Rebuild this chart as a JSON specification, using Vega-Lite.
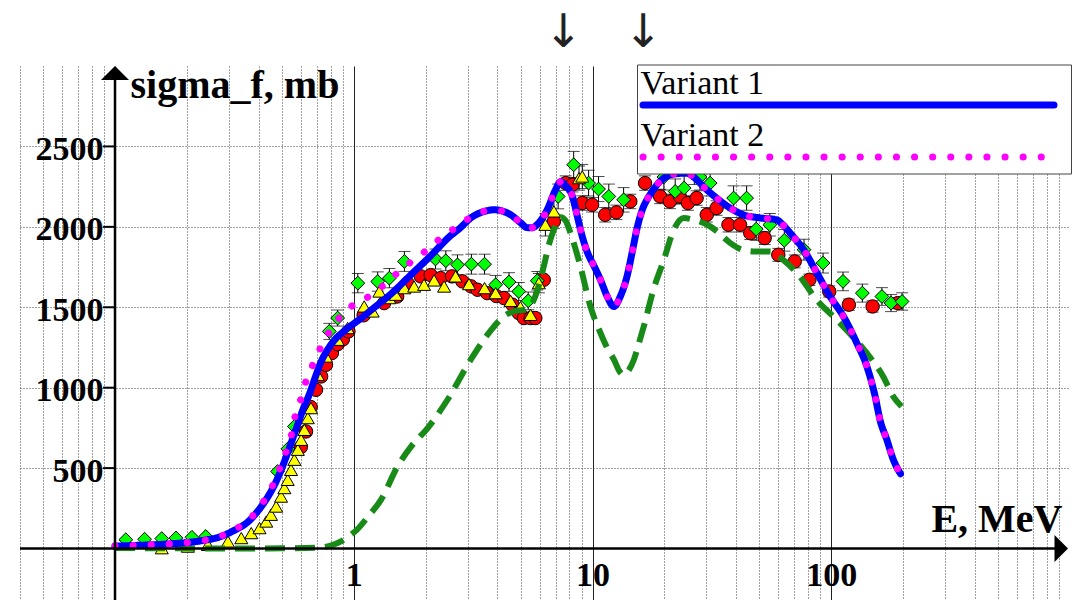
{
  "$schema": "https://vega.github.io/schema/vega-lite/v6.json",
  "width": 1050,
  "height": 534,
  "autosize": {"type": "none"},
  "padding": {"left": 20, "top": 66, "right": 7, "bottom": 0},
  "background": "white",
  "config": {"view": {"stroke": null}, "font": "Liberation Serif"},
  "datasets": {
    "variants": [
      {"model": "Variant 1", "E": 0.1, "sigma": 15}, {"model": "Variant 1", "E": 0.12, "sigma": 19}, {"model": "Variant 1", "E": 0.143, "sigma": 23},
      {"model": "Variant 1", "E": 0.17, "sigma": 29}, {"model": "Variant 1", "E": 0.2, "sigma": 37}, {"model": "Variant 1", "E": 0.234, "sigma": 50},
      {"model": "Variant 1", "E": 0.274, "sigma": 72}, {"model": "Variant 1", "E": 0.313, "sigma": 110}, {"model": "Variant 1", "E": 0.36, "sigma": 165},
      {"model": "Variant 1", "E": 0.4, "sigma": 240}, {"model": "Variant 1", "E": 0.436, "sigma": 320}, {"model": "Variant 1", "E": 0.469, "sigma": 405},
      {"model": "Variant 1", "E": 0.5, "sigma": 500}, {"model": "Variant 1", "E": 0.53, "sigma": 600}, {"model": "Variant 1", "E": 0.56, "sigma": 700},
      {"model": "Variant 1", "E": 0.585, "sigma": 780}, {"model": "Variant 1", "E": 0.615, "sigma": 870}, {"model": "Variant 1", "E": 0.652, "sigma": 960},
      {"model": "Variant 1", "E": 0.69, "sigma": 1065}, {"model": "Variant 1", "E": 0.729, "sigma": 1160}, {"model": "Variant 1", "E": 0.78, "sigma": 1240},
      {"model": "Variant 1", "E": 0.829, "sigma": 1295}, {"model": "Variant 1", "E": 0.9, "sigma": 1345}, {"model": "Variant 1", "E": 0.973, "sigma": 1385},
      {"model": "Variant 1", "E": 1.07, "sigma": 1430}, {"model": "Variant 1", "E": 1.2, "sigma": 1490}, {"model": "Variant 1", "E": 1.45, "sigma": 1590},
      {"model": "Variant 1", "E": 1.73, "sigma": 1700}, {"model": "Variant 1", "E": 2.1, "sigma": 1820}, {"model": "Variant 1", "E": 2.5, "sigma": 1935},
      {"model": "Variant 1", "E": 2.8, "sigma": 1995}, {"model": "Variant 1", "E": 3.09, "sigma": 2055}, {"model": "Variant 1", "E": 3.5, "sigma": 2095},
      {"model": "Variant 1", "E": 3.87, "sigma": 2106}, {"model": "Variant 1", "E": 4.2, "sigma": 2098}, {"model": "Variant 1", "E": 4.54, "sigma": 2075},
      {"model": "Variant 1", "E": 5.0, "sigma": 2025}, {"model": "Variant 1", "E": 5.33, "sigma": 1995}, {"model": "Variant 1", "E": 5.6, "sigma": 1995},
      {"model": "Variant 1", "E": 5.87, "sigma": 2015}, {"model": "Variant 1", "E": 6.46, "sigma": 2106}, {"model": "Variant 1", "E": 7.0, "sigma": 2230},
      {"model": "Variant 1", "E": 7.34, "sigma": 2280}, {"model": "Variant 1", "E": 7.72, "sigma": 2255}, {"model": "Variant 1", "E": 8.24, "sigma": 2189},
      {"model": "Variant 1", "E": 8.64, "sigma": 2065}, {"model": "Variant 1", "E": 9.06, "sigma": 1940}, {"model": "Variant 1", "E": 9.5, "sigma": 1845},
      {"model": "Variant 1", "E": 10.2, "sigma": 1750}, {"model": "Variant 1", "E": 10.8, "sigma": 1671}, {"model": "Variant 1", "E": 11.5, "sigma": 1570},
      {"model": "Variant 1", "E": 12.3, "sigma": 1505}, {"model": "Variant 1", "E": 13.1, "sigma": 1570}, {"model": "Variant 1", "E": 13.95, "sigma": 1692},
      {"model": "Variant 1", "E": 14.7, "sigma": 1850}, {"model": "Variant 1", "E": 15.36, "sigma": 1990}, {"model": "Variant 1", "E": 16.2, "sigma": 2110},
      {"model": "Variant 1", "E": 16.9, "sigma": 2168}, {"model": "Variant 1", "E": 17.5, "sigma": 2205}, {"model": "Variant 1", "E": 19.2, "sigma": 2283},
      {"model": "Variant 1", "E": 21.8, "sigma": 2328}, {"model": "Variant 1", "E": 24.8, "sigma": 2334}, {"model": "Variant 1", "E": 27, "sigma": 2300},
      {"model": "Variant 1", "E": 29.1, "sigma": 2251}, {"model": "Variant 1", "E": 33.1, "sigma": 2179}, {"model": "Variant 1", "E": 37.7, "sigma": 2117},
      {"model": "Variant 1", "E": 42.8, "sigma": 2075}, {"model": "Variant 1", "E": 50.4, "sigma": 2055}, {"model": "Variant 1", "E": 58.9, "sigma": 2044},
      {"model": "Variant 1", "E": 63, "sigma": 2010}, {"model": "Variant 1", "E": 67.3, "sigma": 1961}, {"model": "Variant 1", "E": 76.6, "sigma": 1858},
      {"model": "Variant 1", "E": 87.1, "sigma": 1713}, {"model": "Variant 1", "E": 98.9, "sigma": 1567}, {"model": "Variant 1", "E": 112.5, "sigma": 1443},
      {"model": "Variant 1", "E": 128, "sigma": 1277}, {"model": "Variant 1", "E": 141, "sigma": 1132}, {"model": "Variant 1", "E": 153, "sigma": 940},
      {"model": "Variant 1", "E": 160, "sigma": 800}, {"model": "Variant 1", "E": 171, "sigma": 676}, {"model": "Variant 1", "E": 182, "sigma": 552},
      {"model": "Variant 1", "E": 195, "sigma": 465},

      {"model": "Variant 2", "E": 0.1, "sigma": 15}, {"model": "Variant 2", "E": 0.12, "sigma": 19}, {"model": "Variant 2", "E": 0.143, "sigma": 23},
      {"model": "Variant 2", "E": 0.17, "sigma": 29}, {"model": "Variant 2", "E": 0.2, "sigma": 37}, {"model": "Variant 2", "E": 0.234, "sigma": 50},
      {"model": "Variant 2", "E": 0.274, "sigma": 74}, {"model": "Variant 2", "E": 0.313, "sigma": 115}, {"model": "Variant 2", "E": 0.36, "sigma": 172},
      {"model": "Variant 2", "E": 0.4, "sigma": 250}, {"model": "Variant 2", "E": 0.436, "sigma": 335}, {"model": "Variant 2", "E": 0.469, "sigma": 427},
      {"model": "Variant 2", "E": 0.496, "sigma": 520}, {"model": "Variant 2", "E": 0.525, "sigma": 618}, {"model": "Variant 2", "E": 0.55, "sigma": 717},
      {"model": "Variant 2", "E": 0.568, "sigma": 825}, {"model": "Variant 2", "E": 0.596, "sigma": 914}, {"model": "Variant 2", "E": 0.625, "sigma": 1022},
      {"model": "Variant 2", "E": 0.662, "sigma": 1116}, {"model": "Variant 2", "E": 0.706, "sigma": 1211}, {"model": "Variant 2", "E": 0.758, "sigma": 1302},
      {"model": "Variant 2", "E": 0.816, "sigma": 1381}, {"model": "Variant 2", "E": 0.904, "sigma": 1464}, {"model": "Variant 2", "E": 1.02, "sigma": 1524},
      {"model": "Variant 2", "E": 1.18, "sigma": 1575}, {"model": "Variant 2", "E": 1.34, "sigma": 1640}, {"model": "Variant 2", "E": 1.52, "sigma": 1712},
      {"model": "Variant 2", "E": 1.73, "sigma": 1780}, {"model": "Variant 2", "E": 1.97, "sigma": 1842}, {"model": "Variant 2", "E": 2.2, "sigma": 1904},
      {"model": "Variant 2", "E": 2.51, "sigma": 1966}, {"model": "Variant 2", "E": 2.9, "sigma": 2034}, {"model": "Variant 2", "E": 3.35, "sigma": 2086},
      {"model": "Variant 2", "E": 3.87, "sigma": 2106}, {"model": "Variant 2", "E": 4.2, "sigma": 2098}, {"model": "Variant 2", "E": 4.54, "sigma": 2075},
      {"model": "Variant 2", "E": 5.0, "sigma": 2025}, {"model": "Variant 2", "E": 5.33, "sigma": 1995}, {"model": "Variant 2", "E": 5.6, "sigma": 1995},
      {"model": "Variant 2", "E": 5.87, "sigma": 2015}, {"model": "Variant 2", "E": 6.46, "sigma": 2106}, {"model": "Variant 2", "E": 7.0, "sigma": 2230},
      {"model": "Variant 2", "E": 7.34, "sigma": 2280}, {"model": "Variant 2", "E": 7.72, "sigma": 2255}, {"model": "Variant 2", "E": 8.24, "sigma": 2189},
      {"model": "Variant 2", "E": 8.64, "sigma": 2065}, {"model": "Variant 2", "E": 9.06, "sigma": 1940}, {"model": "Variant 2", "E": 9.5, "sigma": 1845},
      {"model": "Variant 2", "E": 10.2, "sigma": 1750}, {"model": "Variant 2", "E": 10.8, "sigma": 1671}, {"model": "Variant 2", "E": 11.5, "sigma": 1570},
      {"model": "Variant 2", "E": 12.3, "sigma": 1505}, {"model": "Variant 2", "E": 13.1, "sigma": 1570}, {"model": "Variant 2", "E": 13.95, "sigma": 1692},
      {"model": "Variant 2", "E": 14.7, "sigma": 1850}, {"model": "Variant 2", "E": 15.36, "sigma": 1990}, {"model": "Variant 2", "E": 16.2, "sigma": 2110},
      {"model": "Variant 2", "E": 16.9, "sigma": 2168}, {"model": "Variant 2", "E": 17.5, "sigma": 2205}, {"model": "Variant 2", "E": 19.2, "sigma": 2283},
      {"model": "Variant 2", "E": 21.8, "sigma": 2328}, {"model": "Variant 2", "E": 24.8, "sigma": 2334}, {"model": "Variant 2", "E": 27, "sigma": 2300},
      {"model": "Variant 2", "E": 29.1, "sigma": 2251}, {"model": "Variant 2", "E": 33.1, "sigma": 2179}, {"model": "Variant 2", "E": 37.7, "sigma": 2117},
      {"model": "Variant 2", "E": 42.8, "sigma": 2075}, {"model": "Variant 2", "E": 50.4, "sigma": 2055}, {"model": "Variant 2", "E": 58.9, "sigma": 2044},
      {"model": "Variant 2", "E": 63, "sigma": 2010}, {"model": "Variant 2", "E": 67.3, "sigma": 1961}, {"model": "Variant 2", "E": 76.6, "sigma": 1858},
      {"model": "Variant 2", "E": 87.1, "sigma": 1713}, {"model": "Variant 2", "E": 98.9, "sigma": 1567}, {"model": "Variant 2", "E": 112.5, "sigma": 1443},
      {"model": "Variant 2", "E": 128, "sigma": 1277}, {"model": "Variant 2", "E": 141, "sigma": 1132}, {"model": "Variant 2", "E": 153, "sigma": 940},
      {"model": "Variant 2", "E": 160, "sigma": 800}, {"model": "Variant 2", "E": 171, "sigma": 676}, {"model": "Variant 2", "E": 182, "sigma": 552},
      {"model": "Variant 2", "E": 195, "sigma": 465}
    ],
    "reference": [
      {"E": 0.1, "sigma": 3}, {"E": 0.15, "sigma": 2}, {"E": 0.2, "sigma": 1}, {"E": 0.3, "sigma": 0}, {"E": 0.5, "sigma": 1},
      {"E": 0.7, "sigma": 5}, {"E": 0.8, "sigma": 18}, {"E": 0.884, "sigma": 44}, {"E": 0.95, "sigma": 75}, {"E": 1.03, "sigma": 116},
      {"E": 1.15, "sigma": 200}, {"E": 1.3, "sigma": 303}, {"E": 1.525, "sigma": 510}, {"E": 1.75, "sigma": 640}, {"E": 2.04, "sigma": 749},
      {"E": 2.47, "sigma": 925}, {"E": 3.09, "sigma": 1174}, {"E": 3.87, "sigma": 1381}, {"E": 4.3, "sigma": 1450}, {"E": 4.69, "sigma": 1474},
      {"E": 5.2, "sigma": 1485}, {"E": 5.68, "sigma": 1547}, {"E": 6.0, "sigma": 1650}, {"E": 6.25, "sigma": 1754}, {"E": 6.6, "sigma": 1900},
      {"E": 6.89, "sigma": 1982}, {"E": 7.35, "sigma": 2060}, {"E": 7.7, "sigma": 2040}, {"E": 8.09, "sigma": 1961}, {"E": 8.5, "sigma": 1860},
      {"E": 8.9, "sigma": 1754}, {"E": 9.8, "sigma": 1505}, {"E": 10.8, "sigma": 1340}, {"E": 11.5, "sigma": 1250}, {"E": 12.3, "sigma": 1174},
      {"E": 13.0, "sigma": 1100}, {"E": 13.5, "sigma": 1080}, {"E": 14.2, "sigma": 1110}, {"E": 14.9, "sigma": 1174}, {"E": 15.6, "sigma": 1270},
      {"E": 16.4, "sigma": 1381}, {"E": 18.0, "sigma": 1609}, {"E": 19.9, "sigma": 1795}, {"E": 21.9, "sigma": 1982}, {"E": 24.1, "sigma": 2055},
      {"E": 26.5, "sigma": 2044}, {"E": 31.1, "sigma": 2003}, {"E": 33.3, "sigma": 1971}, {"E": 37.8, "sigma": 1899}, {"E": 42, "sigma": 1860},
      {"E": 47.2, "sigma": 1847}, {"E": 55.4, "sigma": 1847}, {"E": 62.9, "sigma": 1795}, {"E": 73.8, "sigma": 1692}, {"E": 86.8, "sigma": 1547},
      {"E": 101.9, "sigma": 1443}, {"E": 119, "sigma": 1340}, {"E": 141, "sigma": 1215}, {"E": 165, "sigma": 1070}, {"E": 182, "sigma": 945},
      {"E": 197, "sigma": 883}
    ],
    "measured": [
      {"series": "A", "E": 0.6, "sigma": 630, "err": 0}, {"series": "A", "E": 0.631, "sigma": 728, "err": 0}, {"series": "A", "E": 0.66, "sigma": 880, "err": 0},
      {"series": "A", "E": 0.695, "sigma": 987, "err": 0}, {"series": "A", "E": 0.73, "sigma": 1070, "err": 0}, {"series": "A", "E": 0.765, "sigma": 1142, "err": 0},
      {"series": "A", "E": 0.81, "sigma": 1215, "err": 0}, {"series": "A", "E": 0.856, "sigma": 1270, "err": 0}, {"series": "A", "E": 0.9, "sigma": 1300, "err": 0},
      {"series": "A", "E": 0.95, "sigma": 1350, "err": 0}, {"series": "A", "E": 1.1, "sigma": 1450, "err": 0}, {"series": "A", "E": 1.34, "sigma": 1526, "err": 0},
      {"series": "A", "E": 1.52, "sigma": 1567, "err": 0}, {"series": "A", "E": 1.68, "sigma": 1650, "err": 0}, {"series": "A", "E": 1.91, "sigma": 1692, "err": 0},
      {"series": "A", "E": 2.1, "sigma": 1700, "err": 0}, {"series": "A", "E": 2.31, "sigma": 1681, "err": 0}, {"series": "A", "E": 2.58, "sigma": 1692, "err": 0},
      {"series": "A", "E": 2.85, "sigma": 1661, "err": 0}, {"series": "A", "E": 3.1, "sigma": 1630, "err": 0}, {"series": "A", "E": 3.3, "sigma": 1609, "err": 0},
      {"series": "A", "E": 3.62, "sigma": 1588, "err": 0}, {"series": "A", "E": 3.95, "sigma": 1570, "err": 0}, {"series": "A", "E": 4.26, "sigma": 1557, "err": 0},
      {"series": "A", "E": 4.62, "sigma": 1516, "err": 0}, {"series": "A", "E": 4.91, "sigma": 1464, "err": 0}, {"series": "A", "E": 5.16, "sigma": 1433, "err": 0},
      {"series": "A", "E": 5.5, "sigma": 1433, "err": 0}, {"series": "A", "E": 5.76, "sigma": 1433, "err": 0}, {"series": "A", "E": 6.25, "sigma": 1671, "err": 0},
      {"series": "A", "E": 6.89, "sigma": 2034, "err": 45}, {"series": "A", "E": 7.72, "sigma": 2272, "err": 45}, {"series": "A", "E": 8.24, "sigma": 2262, "err": 45},
      {"series": "A", "E": 9.06, "sigma": 2148, "err": 45}, {"series": "A", "E": 9.96, "sigma": 2137, "err": 45}, {"series": "A", "E": 11.3, "sigma": 2075, "err": 45},
      {"series": "A", "E": 12.6, "sigma": 2090, "err": 45}, {"series": "A", "E": 14.4, "sigma": 2158, "err": 45}, {"series": "A", "E": 16.6, "sigma": 2272, "err": 45},
      {"series": "A", "E": 19.2, "sigma": 2189, "err": 45}, {"series": "A", "E": 21.1, "sigma": 2158, "err": 45}, {"series": "A", "E": 23.2, "sigma": 2189, "err": 45},
      {"series": "A", "E": 25.1, "sigma": 2148, "err": 45}, {"series": "A", "E": 27.3, "sigma": 2179, "err": 45}, {"series": "A", "E": 30.1, "sigma": 2075, "err": 45},
      {"series": "A", "E": 33.1, "sigma": 2117, "err": 45}, {"series": "A", "E": 37.1, "sigma": 2013, "err": 45}, {"series": "A", "E": 41.5, "sigma": 2013, "err": 45},
      {"series": "A", "E": 45.8, "sigma": 1961, "err": 40}, {"series": "A", "E": 52.6, "sigma": 1930, "err": 40}, {"series": "A", "E": 60.0, "sigma": 1826, "err": 40},
      {"series": "A", "E": 70.3, "sigma": 1785, "err": 40}, {"series": "A", "E": 81.0, "sigma": 1671, "err": 35}, {"series": "A", "E": 98.1, "sigma": 1598, "err": 35},
      {"series": "A", "E": 118.5, "sigma": 1516, "err": 35}, {"series": "A", "E": 149, "sigma": 1505, "err": 35}, {"series": "A", "E": 190, "sigma": 1526, "err": 35},

      {"series": "B", "E": 0.111, "sigma": 55, "err": 0}, {"series": "B", "E": 0.133, "sigma": 58, "err": 0}, {"series": "B", "E": 0.157, "sigma": 62, "err": 0},
      {"series": "B", "E": 0.18, "sigma": 66, "err": 0}, {"series": "B", "E": 0.21, "sigma": 70, "err": 0}, {"series": "B", "E": 0.24, "sigma": 75, "err": 0},
      {"series": "B", "E": 0.48, "sigma": 479, "err": 0}, {"series": "B", "E": 0.53, "sigma": 620, "err": 0}, {"series": "B", "E": 0.564, "sigma": 759, "err": 0},
      {"series": "B", "E": 0.79, "sigma": 1350, "err": 50}, {"series": "B", "E": 0.856, "sigma": 1433, "err": 50}, {"series": "B", "E": 1.04, "sigma": 1650, "err": 60},
      {"series": "B", "E": 1.26, "sigma": 1660, "err": 60}, {"series": "B", "E": 1.41, "sigma": 1681, "err": 60}, {"series": "B", "E": 1.63, "sigma": 1785, "err": 62},
      {"series": "B", "E": 2.2, "sigma": 1800, "err": 62}, {"series": "B", "E": 2.43, "sigma": 1789, "err": 62}, {"series": "B", "E": 2.72, "sigma": 1764, "err": 62},
      {"series": "B", "E": 3.11, "sigma": 1768, "err": 62}, {"series": "B", "E": 3.53, "sigma": 1768, "err": 62}, {"series": "B", "E": 3.93, "sigma": 1640, "err": 58},
      {"series": "B", "E": 4.47, "sigma": 1657, "err": 58}, {"series": "B", "E": 4.91, "sigma": 1598, "err": 56}, {"series": "B", "E": 5.38, "sigma": 1540, "err": 55},
      {"series": "B", "E": 5.87, "sigma": 1665, "err": 58}, {"series": "B", "E": 7.18, "sigma": 2189, "err": 77}, {"series": "B", "E": 8.34, "sigma": 2386, "err": 83},
      {"series": "B", "E": 9.63, "sigma": 2272, "err": 80}, {"series": "B", "E": 10.6, "sigma": 2235, "err": 78}, {"series": "B", "E": 11.7, "sigma": 2189, "err": 77},
      {"series": "B", "E": 13.5, "sigma": 2168, "err": 76}, {"series": "B", "E": 19.9, "sigma": 2310, "err": 81}, {"series": "B", "E": 22.2, "sigma": 2220, "err": 78},
      {"series": "B", "E": 24.2, "sigma": 2241, "err": 78}, {"series": "B", "E": 26.7, "sigma": 2345, "err": 82}, {"series": "B", "E": 28.2, "sigma": 2310, "err": 81},
      {"series": "B", "E": 31.1, "sigma": 2272, "err": 80}, {"series": "B", "E": 39.0, "sigma": 2179, "err": 76}, {"series": "B", "E": 44.2, "sigma": 2179, "err": 76},
      {"series": "B", "E": 48.5, "sigma": 1986, "err": 70}, {"series": "B", "E": 55.3, "sigma": 2013, "err": 70}, {"series": "B", "E": 63.6, "sigma": 1916, "err": 67},
      {"series": "B", "E": 76.9, "sigma": 1858, "err": 65}, {"series": "B", "E": 92.4, "sigma": 1775, "err": 62}, {"series": "B", "E": 112, "sigma": 1661, "err": 58},
      {"series": "B", "E": 135, "sigma": 1588, "err": 56}, {"series": "B", "E": 163, "sigma": 1567, "err": 55}, {"series": "B", "E": 178, "sigma": 1526, "err": 53},
      {"series": "B", "E": 198, "sigma": 1536, "err": 54},

      {"series": "C", "E": 0.157, "sigma": 2, "err": 0}, {"series": "C", "E": 0.202, "sigma": 12, "err": 0}, {"series": "C", "E": 0.245, "sigma": 23, "err": 0},
      {"series": "C", "E": 0.297, "sigma": 44, "err": 0}, {"series": "C", "E": 0.338, "sigma": 65, "err": 0}, {"series": "C", "E": 0.372, "sigma": 96, "err": 0},
      {"series": "C", "E": 0.403, "sigma": 127, "err": 0}, {"series": "C", "E": 0.43, "sigma": 168, "err": 0}, {"series": "C", "E": 0.45, "sigma": 210, "err": 0},
      {"series": "C", "E": 0.473, "sigma": 261, "err": 0}, {"series": "C", "E": 0.496, "sigma": 323, "err": 0}, {"series": "C", "E": 0.512, "sigma": 376, "err": 0},
      {"series": "C", "E": 0.529, "sigma": 427, "err": 0}, {"series": "C", "E": 0.546, "sigma": 489, "err": 0}, {"series": "C", "E": 0.564, "sigma": 552, "err": 0},
      {"series": "C", "E": 0.583, "sigma": 614, "err": 0}, {"series": "C", "E": 0.602, "sigma": 676, "err": 0}, {"series": "C", "E": 0.621, "sigma": 738, "err": 0},
      {"series": "C", "E": 0.642, "sigma": 811, "err": 0}, {"series": "C", "E": 0.662, "sigma": 873, "err": 0}, {"series": "C", "E": 0.706, "sigma": 1080, "err": 0},
      {"series": "C", "E": 0.765, "sigma": 1194, "err": 0}, {"series": "C", "E": 0.856, "sigma": 1298, "err": 0}, {"series": "C", "E": 0.943, "sigma": 1371, "err": 0},
      {"series": "C", "E": 1.106, "sigma": 1505, "err": 0}, {"series": "C", "E": 1.2, "sigma": 1474, "err": 0}, {"series": "C", "E": 1.28, "sigma": 1598, "err": 0},
      {"series": "C", "E": 1.41, "sigma": 1557, "err": 0}, {"series": "C", "E": 1.5, "sigma": 1578, "err": 0}, {"series": "C", "E": 1.63, "sigma": 1619, "err": 0},
      {"series": "C", "E": 1.79, "sigma": 1629, "err": 0}, {"series": "C", "E": 1.97, "sigma": 1640, "err": 0}, {"series": "C", "E": 2.17, "sigma": 1667, "err": 0},
      {"series": "C", "E": 2.39, "sigma": 1629, "err": 0}, {"series": "C", "E": 2.67, "sigma": 1692, "err": 0}, {"series": "C", "E": 3.04, "sigma": 1644, "err": 0},
      {"series": "C", "E": 3.53, "sigma": 1619, "err": 0}, {"series": "C", "E": 3.93, "sigma": 1588, "err": 0}, {"series": "C", "E": 4.54, "sigma": 1540, "err": 0},
      {"series": "C", "E": 4.99, "sigma": 1501, "err": 0}, {"series": "C", "E": 5.5, "sigma": 1453, "err": 0}, {"series": "C", "E": 5.96, "sigma": 1650, "err": 60},
      {"series": "C", "E": 6.35, "sigma": 2013, "err": 70}, {"series": "C", "E": 6.89, "sigma": 2096, "err": 70}, {"series": "C", "E": 8.78, "sigma": 2303, "err": 75},
      {"series": "C", "E": 9.06, "sigma": 2313, "err": 75}
    ],
    "yticks": [{"sigma": 500}, {"sigma": 1000}, {"sigma": 1500}, {"sigma": 2000}, {"sigma": 2500}],
    "markers": [{"E": 7.56}, {"E": 16.3}]
  },
  "layer": [
    {
      "data": {"name": "measured"},
      "transform": [{"filter": "datum.err > 0"}],
      "mark": {"type": "errorbar", "color": "#000000", "thickness": 1, "ticks": {"size": 12, "thickness": 1}},
      "encoding": {
        "x": {"field": "E", "type": "quantitative", "title": "E, MeV", "scale": {"type": "log", "domain": [0.04, 1000], "nice": false}},
        "y": {"field": "sigma", "type": "quantitative", "title": "sigma_f, mb", "scale": {"domain": [-320, 3000], "nice": false, "zero": false}},
        "yError": {"field": "err"}
      }
    },
    {
      "data": {"name": "measured"},
      "transform": [{"filter": "datum.series == 'A'"}],
      "mark": {"type": "point", "shape": "circle", "filled": true, "fill": "#ff0000", "stroke": "#000000", "strokeWidth": 1, "size": 180, "opacity": 1},
      "encoding": {
        "x": {
          "field": "E",
          "type": "quantitative",
          "scale": {"type": "log", "domain": [0.04, 1000], "nice": false},
          "axis": {
            "values": [0.04, 0.05, 0.06, 0.07, 0.08, 0.09, 0.1, 0.2, 0.3, 0.4, 0.5, 0.6, 0.7, 0.8, 0.9, 1, 2, 3, 4, 5, 6, 7, 8, 9, 10, 20, 30, 40, 50, 60, 70, 80, 90, 100, 200, 300, 400, 500, 600, 700, 800, 900],
            "grid": true,
            "gridColor": {"condition": {"test": "datum.value == 1 || datum.value == 10 || datum.value == 100", "value": "#222222"}, "value": "#444444"},
            "gridDash": {"condition": {"test": "datum.value == 1 || datum.value == 10 || datum.value == 100", "value": []}, "value": [1, 2]},
            "gridWidth": 1,
            "domain": false,
            "ticks": false,
            "tickSize": 0,
            "labelExpr": "datum.value == 1 || datum.value == 10 || datum.value == 100 ? datum.value + '' : ''",
            "labelFont": "Liberation Serif",
            "labelFontSize": 34,
            "labelFontWeight": "bold",
            "labelColor": "#000000",
            "labelAlign": "center",
            "labelBaseline": "alphabetic",
            "labelPadding": -15,
            "labelOverlap": false,
            "labelFlush": false,
            "title": "E, MeV",
            "titleFont": "Liberation Serif",
            "titleFontSize": 40,
            "titleFontWeight": "bold",
            "titleColor": "#000000",
            "titleAlign": "right",
            "titleBaseline": "alphabetic",
            "titleX": 1042,
            "titleY": -69
          }
        },
        "y": {
          "field": "sigma",
          "type": "quantitative",
          "scale": {"domain": [-320, 3000], "nice": false, "zero": false},
          "axis": {
            "values": [500, 1000, 1500, 2000, 2500],
            "grid": true,
            "gridColor": "#444444",
            "gridDash": [1, 2],
            "gridWidth": 1,
            "domain": false,
            "ticks": false,
            "tickSize": 0,
            "format": "d",
            "labelFont": "Liberation Serif",
            "labelFontSize": 34,
            "labelFontWeight": "bold",
            "labelColor": "#000000",
            "labelAlign": "right",
            "labelBaseline": "alphabetic",
            "labelPadding": -83,
            "labelOffset": 13,
            "labelOverlap": false,
            "labelFlush": false,
            "title": "sigma_f, mb",
            "titleFont": "Liberation Serif",
            "titleFontSize": 40,
            "titleFontWeight": "bold",
            "titleColor": "#000000",
            "titleAngle": 0,
            "titleAlign": "left",
            "titleBaseline": "alphabetic",
            "titleX": 110,
            "titleY": 31
          }
        }
      }
    },
    {
      "data": {"name": "measured"},
      "transform": [{"filter": "datum.series == 'B'"}],
      "mark": {"type": "point", "shape": "diamond", "filled": true, "fill": "#00ff00", "stroke": "#000000", "strokeWidth": 1, "size": 190, "opacity": 1},
      "encoding": {
        "x": {"field": "E", "type": "quantitative", "scale": {"type": "log", "domain": [0.04, 1000], "nice": false}},
        "y": {"field": "sigma", "type": "quantitative", "scale": {"domain": [-320, 3000], "nice": false, "zero": false}}
      }
    },
    {
      "data": {"name": "measured"},
      "transform": [{"filter": "datum.series == 'C'"}],
      "mark": {"type": "point", "shape": "triangle-up", "filled": true, "fill": "#ffff00", "stroke": "#000000", "strokeWidth": 1, "size": 170, "opacity": 1},
      "encoding": {
        "x": {"field": "E", "type": "quantitative", "scale": {"type": "log", "domain": [0.04, 1000], "nice": false}},
        "y": {"field": "sigma", "type": "quantitative", "scale": {"domain": [-320, 3000], "nice": false, "zero": false}}
      }
    },
    {
      "data": {"name": "reference"},
      "mark": {"type": "line", "color": "#188a18", "strokeWidth": 6, "strokeDash": [20, 10], "interpolate": "monotone"},
      "encoding": {
        "x": {"field": "E", "type": "quantitative", "scale": {"type": "log", "domain": [0.04, 1000], "nice": false}},
        "y": {"field": "sigma", "type": "quantitative", "scale": {"domain": [-320, 3000], "nice": false, "zero": false}}
      }
    },
    {
      "data": {"name": "variants"},
      "mark": {"type": "line", "strokeWidth": 7, "strokeCap": "round", "interpolate": "monotone"},
      "encoding": {
        "x": {"field": "E", "type": "quantitative", "scale": {"type": "log", "domain": [0.04, 1000], "nice": false}},
        "y": {"field": "sigma", "type": "quantitative", "scale": {"domain": [-320, 3000], "nice": false, "zero": false}},
        "color": {
          "field": "model",
          "type": "nominal",
          "scale": {"domain": ["Variant 1", "Variant 2"], "range": ["#0000ff", "#ff00ff"]},
          "legend": {
            "title": null, "orient": "none", "legendX": 617, "legendY": -1.5,
            "symbolType": "stroke", "symbolSize": 168921, "symbolStrokeWidth": 7,
            "rowPadding": 0, "labelOffset": -417,
            "labelFont": "Liberation Serif", "labelFontSize": 34, "labelColor": "#000000",
            "labelBaseline": "alphabetic", "labelLimit": 0,
            "padding": 2.5, "fillColor": "#ffffff", "strokeColor": "#444444",
            "encode": {
              "symbols": {"update": {"strokeCap": {"value": "round"}, "y": {"value": 38}}},
              "labels": {"update": {"y": {"value": 27}}}
            }
          }
        },
        "strokeDash": {
          "field": "model",
          "type": "nominal",
          "scale": {"domain": ["Variant 1", "Variant 2"], "range": [[1, 0], [0.1, 18]]},
          "legend": {
            "title": null, "orient": "none", "legendX": 617, "legendY": -1.5,
            "symbolType": "stroke", "symbolSize": 168921, "symbolStrokeWidth": 7,
            "rowPadding": 0, "labelOffset": -417,
            "labelFont": "Liberation Serif", "labelFontSize": 34, "labelColor": "#000000",
            "labelBaseline": "alphabetic", "labelLimit": 0,
            "padding": 2.5, "fillColor": "#ffffff", "strokeColor": "#444444",
            "encode": {
              "symbols": {"update": {"strokeCap": {"value": "round"}, "y": {"value": 38}}},
              "labels": {"update": {"y": {"value": 27}}}
            }
          }
        }
      }
    },
    {
      "data": {"name": "yticks"},
      "mark": {"type": "rule", "color": "#000000", "strokeWidth": 2},
      "encoding": {
        "x": {"datum": 0.0891, "type": "quantitative", "scale": {"type": "log", "domain": [0.04, 1000], "nice": false}},
        "x2": {"datum": 0.1},
        "y": {"field": "sigma", "type": "quantitative", "scale": {"domain": [-320, 3000], "nice": false, "zero": false}}
      }
    },
    {
      "data": {"values": [{}]},
      "mark": {"type": "rule", "color": "#000000", "strokeWidth": 2.5},
      "encoding": {
        "x": {"datum": 0.04, "type": "quantitative", "scale": {"type": "log", "domain": [0.04, 1000], "nice": false}},
        "x2": {"datum": 919},
        "y": {"datum": 0, "type": "quantitative", "scale": {"domain": [-320, 3000], "nice": false, "zero": false}}
      }
    },
    {
      "data": {"values": [{}]},
      "mark": {"type": "rule", "color": "#000000", "strokeWidth": 2.5},
      "encoding": {
        "x": {"datum": 0.1, "type": "quantitative", "scale": {"type": "log", "domain": [0.04, 1000], "nice": false}},
        "y": {"datum": -320, "type": "quantitative", "scale": {"domain": [-320, 3000], "nice": false, "zero": false}},
        "y2": {"datum": 2956}
      }
    },
    {
      "data": {"values": [{}]},
      "mark": {"type": "point", "shape": "M-0.5,-1L0.5,0L-0.5,1Z", "filled": true, "color": "#000000", "size": 729, "opacity": 1},
      "encoding": {
        "x": {"datum": 919, "type": "quantitative", "scale": {"type": "log", "domain": [0.04, 1000], "nice": false}},
        "y": {"datum": 0, "type": "quantitative", "scale": {"domain": [-320, 3000], "nice": false, "zero": false}}
      }
    },
    {
      "data": {"values": [{}]},
      "mark": {"type": "point", "shape": "M-1,0.5L0,-0.5L1,0.5Z", "filled": true, "color": "#000000", "size": 784, "opacity": 1},
      "encoding": {
        "x": {"datum": 0.1, "type": "quantitative", "scale": {"type": "log", "domain": [0.04, 1000], "nice": false}},
        "y": {"datum": 2956, "type": "quantitative", "scale": {"domain": [-320, 3000], "nice": false, "zero": false}}
      }
    },
    {
      "data": {"name": "markers"},
      "mark": {"type": "text", "text": "↓", "font": "DejaVu Sans", "fontSize": 46, "baseline": "alphabetic", "align": "center", "color": "#222222"},
      "encoding": {
        "x": {"field": "E", "type": "quantitative", "scale": {"type": "log", "domain": [0.04, 1000], "nice": false}},
        "y": {"datum": 3118, "type": "quantitative", "scale": {"domain": [-320, 3000], "nice": false, "zero": false}}
      }
    }
  ]
}
